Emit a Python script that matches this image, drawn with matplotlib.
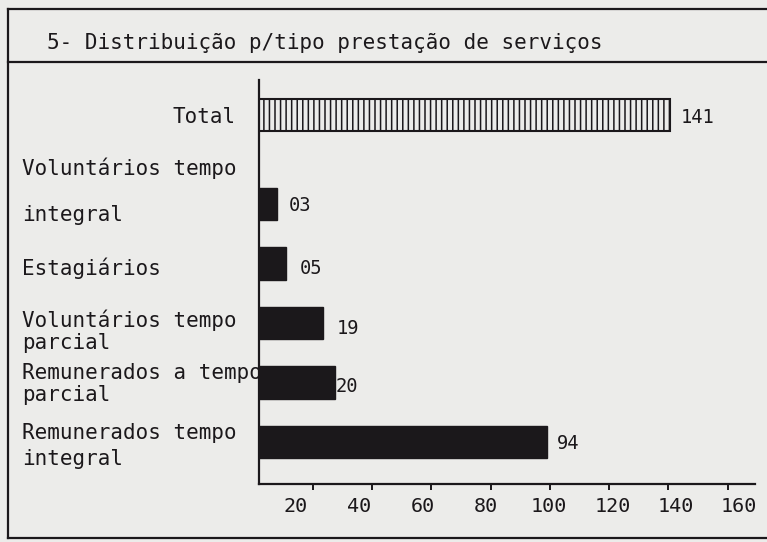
import numpy as np
import matplotlib
matplotlib.use("Agg")
import matplotlib.pyplot as plt
import matplotlib.transforms as mtransforms
from matplotlib.lines import Line2D

# ---- data ----
categories = ["Total",
              "Voluntários tempo\nintegral",
              "Estagiários",
              "Voluntários tempo\nparcial",
              "Remunerados a tempo\nparcial",
              "Remunerados tempo\nintegral"]
value_labels = ["141", "03", "05", "19", "20", "94"]
bar_lengths = [140.5, 7.9, 11.0, 23.4, 27.5, 99.0]   # lengths as drawn on the scale
tick_values = [20, 40, 60, 80, 100, 120, 140, 160]
tick_labels = ["20", "40", "60", "80", "100", "120", "140", "160"]
title = "5- Distribuição p/tipo prestação de serviços"

# ---- layout / style ----
W, H, DPI = 767, 542, 100
BG = "#ececea"
INK = "#1b181b"
plt.rcParams['font.family'] = ['DejaVu Sans Mono', 'DejaVu Sans']
plt.rcParams['hatch.linewidth'] = 1.1
plt.rcParams['hatch.color'] = INK

fig = plt.figure(figsize=(W / DPI, H / DPI), dpi=DPI, facecolor=BG)


def fx(px):
    return px / W


def fy(py):
    return 1 - py / H


ax = fig.add_axes([fx(259), fy(484), fx(755) - fx(259), fy(80) - fy(484)])
ax.set_facecolor('none')
ypos = [5.5, 4, 3, 2, 1, 0]
ax.set_xlim(1.9, 169.2)
ax.set_ylim(-0.706, 6.084)

bh = 0.54
# Total bar: hatched outline
ax.barh(ypos[0], bar_lengths[0], height=bh, color=BG, edgecolor=INK,
        linewidth=1.5, hatch='|||')
ax.barh(ypos[1:], bar_lengths[1:], height=bh, color=INK, edgecolor=INK,
        linewidth=1.0)

for s in ['top', 'right']:
    ax.spines[s].set_visible(False)
for s in ['left', 'bottom']:
    ax.spines[s].set_linewidth(1.6)
    ax.spines[s].set_color(INK)

ax.set_yticks([])
ax.set_xticks(tick_values)
ax.tick_params(axis='x', which='major', direction='out', length=4, width=1.4,
               color=INK, labelbottom=False)
ax.set_xticks(np.linspace(14.3, 163.8, len(tick_labels)), minor=True)
ax.set_xticklabels(tick_labels, minor=True)
ax.tick_params(axis='x', which='minor', length=0, pad=9, labelsize=14.5,
               labelcolor=INK)

# category labels
blend = mtransforms.blended_transform_factory(fig.transFigure, ax.transData)
label_layout = [(236, 'right', [8]),
                (22, 'left', [-28.5, 17.2]),
                (22, 'left', [12]),
                (22, 'left', [3.8, 26.2]),
                (22, 'left', [-3.4, 19]),
                (22, 'left', [-2.7, 23])]
for cat, y, (xpx, ha, offs) in zip(categories, ypos, label_layout):
    for line, off in zip(cat.split("\n"), offs):
        tr = mtransforms.offset_copy(blend, fig=fig, x=0, y=-off, units='dots')
        ax.text(fx(xpx), y, line, transform=tr, ha=ha, va='baseline',
                fontsize=15, color=INK, clip_on=False)

# value labels
val_dx = [11, 12, 14, 14, 1, 10]
val_dy = [8, 7, 11, 11, 10, 7]
for L, y, lab, dx, dy in zip(bar_lengths, ypos, value_labels, val_dx, val_dy):
    tr = mtransforms.offset_copy(ax.transData, fig=fig, x=dx, y=-dy, units='dots')
    ax.text(L, y, lab, transform=tr, ha='left', va='baseline', fontsize=13.5,
            color=INK, clip_on=False)

# frame
lw = 1.6
for xs, ys in [([fx(8), 1], [fy(9), fy(9)]),
               ([fx(8), 1], [fy(62), fy(62)]),
               ([fx(8), 1], [fy(538), fy(538)]),
               ([fx(8), fx(8)], [fy(9), fy(538)])]:
    fig.add_artist(Line2D(xs, ys, transform=fig.transFigure, lw=lw, color=INK))

fig.text(fx(47), fy(49), title, va='baseline', ha='left', fontsize=15, color=INK)

fig.savefig("out.png", dpi=DPI, facecolor=BG)
